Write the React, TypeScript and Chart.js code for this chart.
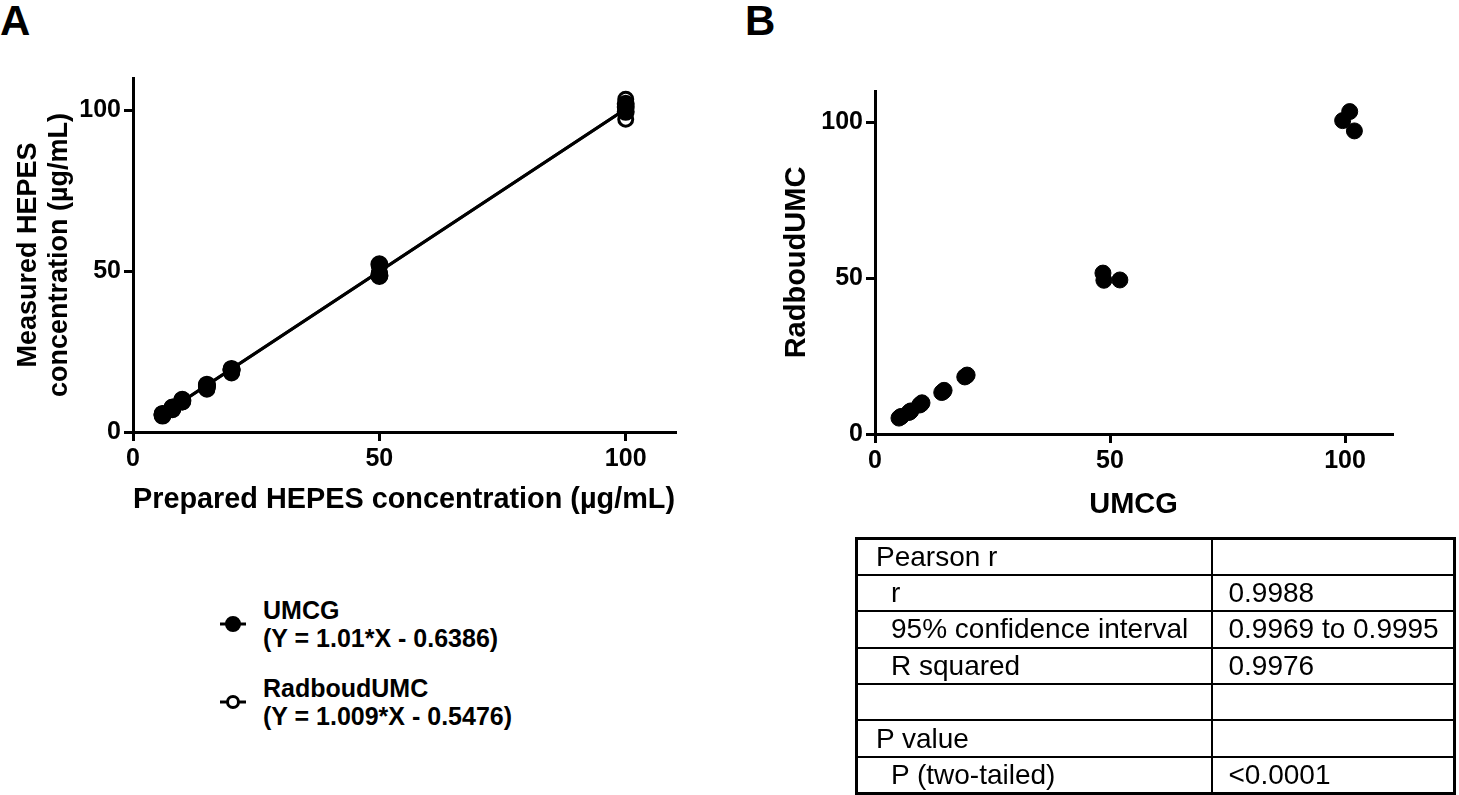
import React, { useEffect, useRef } from "react";
import { Chart, registerables } from "chart.js";

Chart.register(...registerables);

const FONT = "'Liberation Sans', Arial, Helvetica, sans-serif";

// ---- Data ----
const preparedConc = [6, 6, 6, 8, 8, 8, 10, 10, 10, 15, 15, 15, 20, 20, 20, 50, 50, 50, 100, 100, 100];
const umcgMeasured = [5.1, 5.4, 5.6, 7.2, 7.5, 7.6, 9.5, 9.8, 10.0, 14.2, 14.5, 14.7, 19.1, 19.4, 19.6, 48.5, 48.7, 52.1, 99.5, 101.0, 102.0];
const radboudMeasured = [5.1, 5.5, 5.6, 6.9, 7.2, 7.4, 9.3, 9.6, 10.0, 13.3, 13.6, 14.0, 18.3, 18.6, 18.9, 51.6, 49.3, 49.4, 100.5, 103.4, 97.2];

const fitX = [6, 100];
const umcgFitY = [5.42, 100.36];
const radboudFitY = [5.51, 100.35];

const axisTicks = [0, 50, 100];
const axisMin = 0;
const axisMax = 110;

const legendNames = ["UMCG", "RadboudUMC"];
const legendEquations = ["(Y = 1.01*X - 0.6386)", "(Y = 1.009*X - 0.5476)"];
const legendFilled = [true, false];

const tableLabels = ["Pearson r", "r", "95% confidence interval", "R squared", "", "P value", "P (two-tailed)"];
const tableIndented = [false, true, true, true, false, false, true];
const tableValues = ["", "0.9988", "0.9969 to 0.9995", "0.9976", "", "", "<0.0001"];

const pts = (xs: number[], ys: number[]) => xs.map((x, i) => ({ x, y: ys[i] }));

function axisOpts(title: string | string[], size: number, titlePad: any) {
  return {
    type: "linear" as const,
    min: axisMin,
    max: axisMax,
    afterBuildTicks: (s: any) => {
      s.ticks = axisTicks.map((v) => ({ value: v }));
    },
    grid: {
      display: true,
      drawOnChartArea: false,
      drawTicks: true,
      tickLength: 9,
      tickWidth: 3,
      tickColor: "#000",
      color: "#000",
      lineWidth: 3,
    },
    border: { display: true, color: "#000", width: 3 },
    ticks: {
      color: "#000",
      padding: 3,
      font: { family: FONT, size: 25, weight: "bold" as const },
    },
    title: {
      display: true,
      text: title,
      color: "#000",
      padding: titlePad,
      font: { family: FONT, size, weight: "bold" as const, lineHeight: 1.15 },
    },
  };
}

function ChartA() {
  const ref = useRef<HTMLCanvasElement | null>(null);
  useEffect(() => {
    if (!ref.current) return;
    const xo: any = axisOpts("Prepared HEPES concentration (\u00b5g/mL)", 29, { top: 0, bottom: 23 });
    xo.afterFit = (s: any) => { s.height = 108; };
    const yo: any = axisOpts(["Measured HEPES", "concentration (\u00b5g/mL)"], 27, { top: 13, bottom: 0 });
    yo.afterFit = (s: any) => { s.width = 133; };
    const chart = new Chart(ref.current, {
      type: "scatter",
      data: {
        datasets: [
          {
            label: "UMCG",
            data: pts(preparedConc, umcgMeasured),
            backgroundColor: "#000",
            borderColor: "#000",
            pointRadius: 8,
            borderWidth: 2,
          },
          {
            label: "RadboudUMC",
            data: pts(preparedConc, radboudMeasured),
            backgroundColor: "#fff",
            borderColor: "#000",
            pointRadius: 7,
            borderWidth: 3,
          },
          {
            label: "UMCG fit",
            data: pts(fitX, umcgFitY),
            showLine: true,
            borderColor: "#000",
            borderWidth: 3,
            pointRadius: 0,
          },
          {
            label: "RadboudUMC fit",
            data: pts(fitX, radboudFitY),
            showLine: true,
            borderColor: "#000",
            borderWidth: 3,
            pointRadius: 0,
          },
        ],
      },
      options: {
        responsive: false,
        animation: false,
        devicePixelRatio: 1,
        layout: { padding: { top: 78, right: 25, left: 0, bottom: 0 } },
        plugins: { legend: { display: false }, tooltip: { enabled: false } },
        scales: { x: xo, y: yo },
      },
    });
    return () => chart.destroy();
  }, []);
  return <canvas ref={ref} width={700} height={540} style={{ position: "absolute", left: 0, top: 0 }} />;
}

function ChartB() {
  const ref = useRef<HTMLCanvasElement | null>(null);
  useEffect(() => {
    if (!ref.current) return;
    const xo: any = axisOpts("UMCG", 29, { top: 0, bottom: 18 });
    xo.afterFit = (s: any) => { s.height = 106; };
    const yo: any = axisOpts("RadboudUMC", 29, { top: 20, bottom: 0 });
    yo.afterFit = (s: any) => { s.width = 115; };
    const chart = new Chart(ref.current, {
      type: "scatter",
      data: {
        datasets: [
          {
            label: "UMCG vs RadboudUMC",
            data: pts(umcgMeasured, radboudMeasured),
            backgroundColor: "#000",
            borderColor: "#000",
            pointRadius: 8,
            borderWidth: 1,
          },
        ],
      },
      options: {
        responsive: false,
        animation: false,
        devicePixelRatio: 1,
        layout: { padding: { top: 91, right: 28, left: 0, bottom: 0 } },
        plugins: { legend: { display: false }, tooltip: { enabled: false } },
        scales: { x: xo, y: yo },
      },
    });
    return () => chart.destroy();
  }, []);
  return <canvas ref={ref} width={660} height={540} style={{ position: "absolute", left: 760, top: 0 }} />;
}

function LegendIcon({ filled }: { filled: boolean }) {
  return (
    <svg width={30} height={20} style={{ position: "absolute", left: 218, top: -10 }}>
      <line x1={2} y1={10} x2={28} y2={10} stroke="#000" strokeWidth={3} />
      <circle cx={15} cy={10} r={filled ? 6.5 : 5.5} fill={filled ? "#000" : "#fff"} stroke="#000" strokeWidth={3} />
    </svg>
  );
}

function Legend() {
  const tops = [596, 674];
  return (
    <>
      {legendNames.map((name, i) => (
        <div key={name} style={{ position: "absolute", left: 0, top: tops[i] }}>
          <div style={{ position: "absolute", left: 0, top: 28 }}>
            <LegendIcon filled={legendFilled[i]} />
          </div>
          <div
            style={{
              position: "absolute",
              left: 263,
              top: 0,
              whiteSpace: "nowrap",
              fontFamily: FONT,
              fontWeight: "bold",
              fontSize: 25,
              lineHeight: "28px",
              color: "#000",
            }}
          >
            <div>{name}</div>
            <div>{legendEquations[i]}</div>
          </div>
        </div>
      ))}
    </>
  );
}

function StatsTable() {
  const rowH = 36.4;
  return (
    <table
      style={{
        position: "absolute",
        left: 855,
        top: 537,
        width: 598,
        height: 255,
        borderCollapse: "collapse",
        border: "3px solid #000",
        fontFamily: FONT,
        fontSize: 28,
        color: "#000",
        tableLayout: "fixed",
      }}
    >
      <colgroup>
        <col style={{ width: 355 }} />
        <col style={{ width: 243 }} />
      </colgroup>
      <tbody>
        {tableLabels.map((lab, i) => (
          <tr key={i} style={{ height: rowH }}>
            <td
              style={{
                border: "2px solid #000",
                padding: 0,
                paddingLeft: tableIndented[i] ? 33 : 18,
                whiteSpace: "nowrap",
                lineHeight: "30px",
              }}
            >
              {lab}
            </td>
            <td style={{ border: "2px solid #000", padding: 0, paddingLeft: 16, whiteSpace: "nowrap", lineHeight: "30px" }}>
              {tableValues[i]}
            </td>
          </tr>
        ))}
      </tbody>
    </table>
  );
}

export default function App() {
  const letter = {
    position: "absolute" as const,
    top: 0,
    fontFamily: FONT,
    fontWeight: "bold" as const,
    fontSize: 42,
    lineHeight: "42px",
    color: "#000",
  };
  return (
    <div style={{ position: "absolute", left: 0, top: 0, width: 1459, height: 795, background: "#fff", overflow: "hidden" }}>
      <div style={{ ...letter, left: 0 }}>A</div>
      <div style={{ ...letter, left: 745 }}>B</div>
      <ChartA />
      <ChartB />
      <Legend />
      <StatsTable />
    </div>
  );
}
